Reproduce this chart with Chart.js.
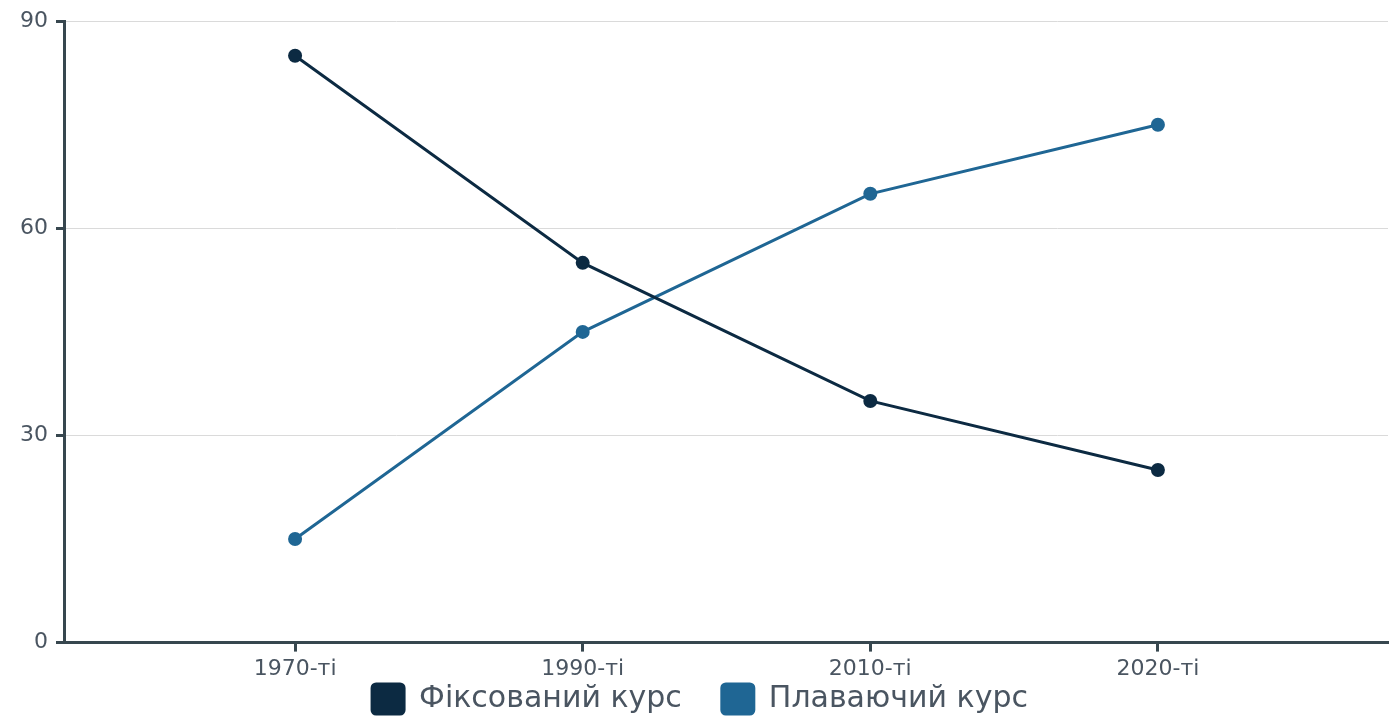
<!DOCTYPE html>
<html>
<head>
<meta charset="utf-8">
<script src="https://cdn.jsdelivr.net/npm/chart.js@4"></script>
<style>
  html, body { margin: 0; padding: 0; background: #ffffff; overflow: hidden; }
  #wrap { width: 1391px; height: 716px; position: relative; overflow: hidden; }
  canvas { display: block; }
</style>
</head>
<body>
<div id="wrap"><canvas id="c"></canvas></div>
<script>
const categories = ['1970-ті', '1990-ті', '2010-ті', '2020-ті'];
const fixedRate = [85, 55, 35, 25];
const floatingRate = [15, 45, 65, 75];
const seriesNames = ['Фіксований курс', 'Плаваючий курс'];
const yTicks = [0, 30, 60, 90];

const FONT = "'DejaVu Sans', sans-serif";
const AXIS = '#37474f';
const TEXT = '#4a5561';
const LEGEND_PAD = 40;
const LEGEND_RESERVED = 30;
const LEGEND_SHIFT = 42;

function toPoints(arr) { return arr.map((v, i) => ({ x: i, y: v })); }

// Keep wide horizontal spacing between legend items while reserving only a small band for the legend.
const legendTightPlugin = {
  id: 'legendTight',
  afterInit(chart) {
    const lg = chart.legend;
    if (!lg) return;
    const origFit = lg.fit.bind(lg);
    lg.fit = function () {
      origFit();
      this.height = LEGEND_RESERVED;
    };
  },
  afterLayout(chart) {
    const lg = chart.legend;
    if (!lg) return;
    lg.top -= LEGEND_SHIFT;
  }
};

new Chart(document.getElementById('c'), {
  type: 'line',
  data: {
    datasets: [
      {
        label: seriesNames[0],
        data: toPoints(fixedRate),
        borderColor: '#0c2a42',
        backgroundColor: '#0c2a42',
        borderWidth: 3,
        pointRadius: 7,
        pointHoverRadius: 7,
        pointBorderWidth: 0,
        tension: 0
      },
      {
        label: seriesNames[1],
        data: toPoints(floatingRate),
        borderColor: '#1f6694',
        backgroundColor: '#1f6694',
        borderWidth: 3,
        pointRadius: 7,
        pointHoverRadius: 7,
        pointBorderWidth: 0,
        tension: 0
      }
    ]
  },
  plugins: [legendTightPlugin],
  options: {
    responsive: true,
    maintainAspectRatio: false,
    animation: false,
    layout: { autoPadding: false, padding: { top: 14, right: 3, left: 12, bottom: 0 } },
    plugins: {
      tooltip: { enabled: false },
      legend: {
        position: 'bottom',
        labels: {
          font: { family: FONT, size: 30 },
          color: TEXT,
          boxWidth: 32,
          boxHeight: 30,
          borderRadius: 4,
          useBorderRadius: true,
          padding: LEGEND_PAD
        }
      }
    },
    scales: {
      x: {
        type: 'linear',
        min: -0.8,
        max: 3.8,
        afterBuildTicks: (scale) => { scale.ticks = categories.map((_, i) => ({ value: i })); },
        ticks: {
          callback: (v) => categories[v] !== undefined ? categories[v] : '',
          font: { family: FONT, size: 22 },
          color: TEXT,
          padding: 4,
          maxRotation: 0
        },
        grid: {
          drawOnChartArea: false,
          drawTicks: true,
          tickLength: 9,
          tickWidth: 3,
          tickColor: AXIS
        },
        border: { color: AXIS, width: 3 }
      },
      y: {
        min: 0,
        max: 90,
        afterBuildTicks: (scale) => { scale.ticks = yTicks.map(v => ({ value: v })); },
        ticks: {
          font: { family: FONT, size: 22 },
          color: TEXT,
          padding: 8
        },
        grid: {
          color: '#dadada',
          lineWidth: 1,
          tickLength: 9,
          tickWidth: 3,
          tickColor: AXIS
        },
        border: { color: AXIS, width: 3 }
      }
    }
  }
});
</script>
</body>
</html>
